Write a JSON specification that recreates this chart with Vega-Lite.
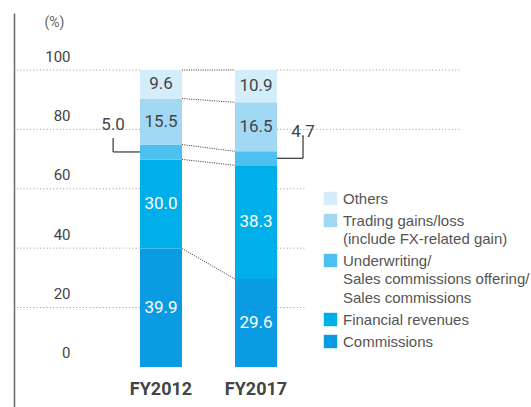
{
  "$schema": "https://vega.github.io/schema/vega-lite/v6.json",
  "width": 446,
  "height": 394,
  "autosize": "none",
  "padding": {"left": 14, "top": 13, "right": 71, "bottom": 0},
  "config": {
    "view": {"stroke": null},
    "font": "Roboto",
    "axisY": {
      "domainColor": "#666", "domainWidth": 1.5, "ticks": false, "tickSize": 0, "grid": false,
      "labelPadding": -56, "labelAlign": "right", "labelOffset": -14, "labelBaseline": "middle",
      "labelFontSize": 15, "labelColor": "#444", "labelFont": "Roboto", "labelFlush": false, "labelOverlap": false,
      "titleAngle": 0, "titleX": 40, "titleY": 9, "titleAlign": "center", "titleBaseline": "middle",
      "titleFontSize": 14, "titleFontWeight": "normal", "titleColor": "#666", "titleFont": "Roboto"
    },
    "axisX": {
      "domain": false, "ticks": false, "tickSize": 0, "grid": false,
      "labelPadding": -18, "labelBaseline": "middle", "labelFontSize": 18, "labelFontWeight": "bold",
      "labelColor": "#444", "labelAngle": 0, "labelFont": "Roboto"
    }
  },
  "datasets": {
    "shares": [
      {"year": "FY2012", "category": "Commissions", "k": 1, "value": 39.9},
      {"year": "FY2012", "category": "Financial revenues", "k": 2, "value": 30.0},
      {"year": "FY2012", "category": "Underwriting/Sales commissions offering/Sales commissions", "k": 3, "value": 5.0},
      {"year": "FY2012", "category": "Trading gains/loss (include FX-related gain)", "k": 4, "value": 15.5},
      {"year": "FY2012", "category": "Others", "k": 5, "value": 9.6},
      {"year": "FY2017", "category": "Commissions", "k": 1, "value": 29.6},
      {"year": "FY2017", "category": "Financial revenues", "k": 2, "value": 38.3},
      {"year": "FY2017", "category": "Underwriting/Sales commissions offering/Sales commissions", "k": 3, "value": 4.7},
      {"year": "FY2017", "category": "Trading gains/loss (include FX-related gain)", "k": 4, "value": 16.5},
      {"year": "FY2017", "category": "Others", "k": 5, "value": 10.9}
    ],
    "links": [
      {"from": "FY2012", "to": "FY2017", "y1": 100, "y2": 100},
      {"from": "FY2012", "to": "FY2017", "y1": 90.4, "y2": 89.1},
      {"from": "FY2012", "to": "FY2017", "y1": 74.9, "y2": 72.6},
      {"from": "FY2012", "to": "FY2017", "y1": 69.9, "y2": 67.9},
      {"from": "FY2012", "to": "FY2017", "y1": 39.9, "y2": 29.6}
    ],
    "grid": [{"v": 20}, {"v": 40}, {"v": 60}, {"v": 80}, {"v": 100}],
    "notes": [
      {"year": "FY2012", "label": "5.0", "mid": 72.4, "top": 77.1, "ty": 81.5},
      {"year": "FY2017", "label": "4.7", "mid": 70.25, "top": 77.4, "ty": 79.1}
    ]
  },
  "layer": [
    {
      "data": {"name": "grid"},
      "mark": {"type": "rule", "color": "#999", "strokeDash": [1, 2.3], "strokeWidth": 1},
      "encoding": {
        "y": {"field": "v", "type": "quantitative",
              "scale": {"domain": [-13.5, 119.2], "nice": false, "zero": false},
              "axis": {"title": "(%)", "values": [0, 20, 40, 60, 80, 100]}},
        "x": {"datum": "FY2012", "type": "nominal", "bandPosition": 0,
              "scale": {"domain": ["FY2012", "FY2017"], "range": [126, 263], "paddingInner": 0.558, "paddingOuter": 0},
              "axis": {"title": null}},
        "x2": {"value": 0}
      }
    },
    {
      "data": {"name": "grid"},
      "mark": {"type": "rule", "color": "#999", "strokeDash": [1, 2.3], "strokeWidth": 1},
      "encoding": {
        "y": {"field": "v", "type": "quantitative"},
        "x": {"datum": "FY2017", "type": "nominal", "bandPosition": 1},
        "x2": {"value": "width"}
      }
    },
    {
      "data": {"name": "links"},
      "mark": {"type": "rule", "color": "#333", "strokeDash": [1, 1.3], "strokeWidth": 1},
      "encoding": {
        "x": {"field": "from", "type": "nominal", "bandPosition": 1},
        "x2": {"field": "to", "bandPosition": 0},
        "y": {"field": "y1", "type": "quantitative"},
        "y2": {"field": "y2"}
      }
    },
    {
      "data": {"name": "shares"},
      "mark": {"type": "bar"},
      "encoding": {
        "x": {"field": "year", "type": "nominal"},
        "y": {"field": "value", "type": "quantitative", "stack": "zero"},
        "order": {"field": "k", "type": "quantitative"},
        "color": {
          "field": "category", "type": "nominal",
          "scale": {
            "domain": ["Others", "Trading gains/loss (include FX-related gain)", "Underwriting/Sales commissions offering/Sales commissions", "Financial revenues", "Commissions"],
            "range": ["#d4edfa", "#a3d8f5", "#4cc1f0", "#00aeea", "#0a9be3"]
          },
          "legend": {
            "orient": "none", "legendX": 291, "legendY": 160, "title": null,
            "symbolType": "square", "symbolSize": 180, "symbolStrokeWidth": 0, "symbolOpacity": 1,
            "labelFont": "Liberation Sans", "labelFontSize": 15, "labelColor": "#555", "labelOffset": 5,
            "labelLimit": 300, "rowPadding": 6, "padding": 18, "fillColor": "white",
            "labelExpr": "datum.value == 'Trading gains/loss (include FX-related gain)' ? ['Trading gains/loss', '(include FX-related gain)'] : datum.value == 'Underwriting/Sales commissions offering/Sales commissions' ? ['Underwriting/', 'Sales commissions offering/', 'Sales commissions'] : datum.label",
            "encode": {"labels": {"update": {"lineHeight": {"value": 18.5}}}}
          }
        }
      }
    },
    {
      "data": {"name": "shares"},
      "mark": {"type": "text", "fontSize": 17, "font": "Roboto", "baseline": "middle"},
      "encoding": {
        "x": {"field": "year", "type": "nominal"},
        "y": {"field": "value", "type": "quantitative", "stack": "zero", "bandPosition": 0.5},
        "order": {"field": "k", "type": "quantitative"},
        "text": {"field": "value", "type": "quantitative", "format": ".1f"},
        "color": {"condition": {"test": "datum.k <= 2", "value": "white"}, "value": "#444"},
        "opacity": {"condition": {"test": "datum.k == 3", "value": 0}, "value": 1}
      }
    },
    {
      "mark": {"type": "rule", "color": "#666", "strokeWidth": 1.5},
      "encoding": {"y": {"datum": 0, "type": "quantitative"}}
    },
    {
      "data": {"name": "notes"},
      "transform": [{"filter": "datum.year == 'FY2012'"}],
      "layer": [
        {"mark": {"type": "rule", "color": "#444", "strokeWidth": 1.3},
         "encoding": {"x": {"field": "year", "type": "nominal", "bandPosition": -0.64}, "x2": {"field": "year", "bandPosition": 0}, "y": {"field": "mid", "type": "quantitative"}}},
        {"mark": {"type": "rule", "color": "#444", "strokeWidth": 1.3},
         "encoding": {"x": {"field": "year", "type": "nominal", "bandPosition": -0.64}, "y": {"field": "mid", "type": "quantitative"}, "y2": {"field": "top"}}},
        {"mark": {"type": "text", "fontSize": 17, "font": "Roboto", "color": "#444", "baseline": "middle"},
         "encoding": {"x": {"field": "year", "type": "nominal", "bandPosition": -0.64}, "y": {"field": "ty", "type": "quantitative"}, "text": {"field": "label"}}}
      ]
    },
    {
      "data": {"name": "notes"},
      "transform": [{"filter": "datum.year == 'FY2017'"}],
      "layer": [
        {"mark": {"type": "rule", "color": "#444", "strokeWidth": 1.3},
         "encoding": {"x": {"field": "year", "type": "nominal", "bandPosition": 1}, "x2": {"field": "year", "bandPosition": 1.62}, "y": {"field": "mid", "type": "quantitative"}}},
        {"mark": {"type": "rule", "color": "#444", "strokeWidth": 1.3},
         "encoding": {"x": {"field": "year", "type": "nominal", "bandPosition": 1.62}, "y": {"field": "mid", "type": "quantitative"}, "y2": {"field": "top"}}},
        {"mark": {"type": "text", "fontSize": 17, "font": "Roboto", "color": "#444", "baseline": "middle"},
         "encoding": {"x": {"field": "year", "type": "nominal", "bandPosition": 1.62}, "y": {"field": "ty", "type": "quantitative"}, "text": {"field": "label"}}}
      ]
    }
  ]
}
